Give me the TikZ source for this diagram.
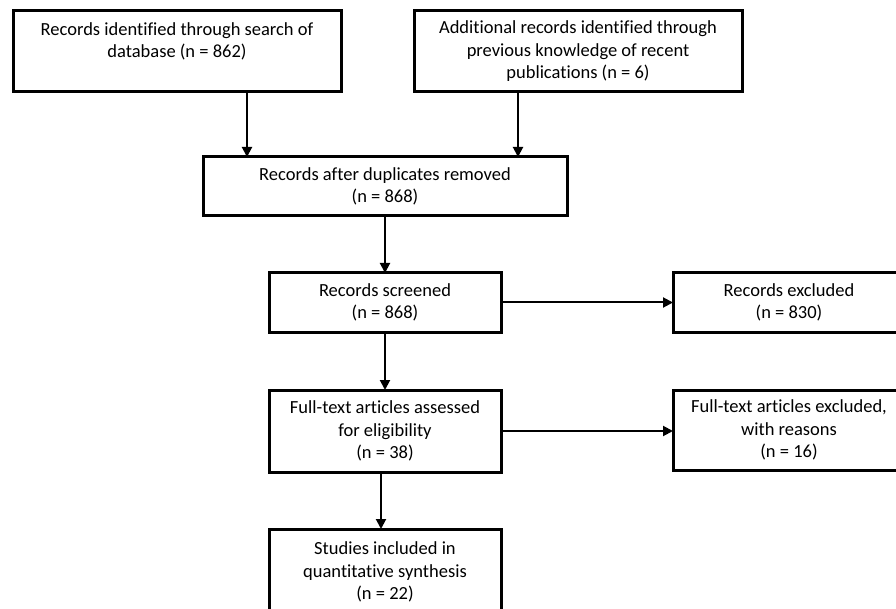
\documentclass[tikz,border=0pt]{standalone}
\usepackage{fontspec}
\setmainfont[Ligatures=NoCommon]{Carlito}
\usetikzlibrary{arrows.meta}
\begin{document}
\begin{tikzpicture}[x=1pt,y=-1pt,
  box/.style={draw,line width=3pt,align=center,inner sep=0pt,outer sep=0pt,
    font=\fontsize{18.5}{22.5}\selectfont},
  arr/.style={line width=2pt,-{Triangle[length=10pt,width=10pt]}}]
\useasboundingbox (0,0) rectangle (896,609);
\clip (0,0) rectangle (896,609);

\node [box,minimum width=328pt,minimum height=81pt] (srch) at (177,51.5)
  {Records identified through search of\\database (n = 862)\\\mbox{}};
\node [box,minimum width=328pt,minimum height=81pt] (prev) at (578,51.5)
  {Additional records identified through\\previous knowledge of recent\\publications (n = 6)};
\node [box,minimum width=364pt,minimum height=59pt] (dupl) at (385,186.5)
  {Records after duplicates removed\\(n = 868)};
\node [box,minimum width=232pt,minimum height=59pt] (scrn) at (385,302.5)
  {Records screened\\(n = 868)};
\node [box,minimum width=232pt,minimum height=59pt] (excl) at (789,302.5)
  {Records excluded\\(n = 830)};
\node [box,minimum width=232pt,minimum height=82pt] (full) at (385,431)
  {Full-text articles assessed\\for eligibility\\(n = 38)};
\node [box,minimum width=232pt,minimum height=80pt] (fexc) at (789,430)
  {Full-text articles excluded,\\with reasons\\(n = 16)};
\node [box,minimum width=232pt,minimum height=86pt] (incl) at (385,572)
  {Studies included in\\quantitative synthesis\\(n = 22)};

\draw [arr] ([xshift=70pt]srch.south) -- ([xshift=70pt]srch.south |- dupl.north);
\draw [arr] ([xshift=-60pt]prev.south) -- ([xshift=-60pt]prev.south |- dupl.north);
\draw [arr] (dupl.south) -- (scrn.north);
\draw [arr] (scrn.east) -- (excl.west);
\draw [arr] (scrn.south) -- (full.north);
\draw [arr] (full.east) -- (full.east -| fexc.west);
\draw [arr] ([xshift=-4pt]full.south) -- ([xshift=-4pt]full.south |- incl.north);
\end{tikzpicture}
\end{document}
